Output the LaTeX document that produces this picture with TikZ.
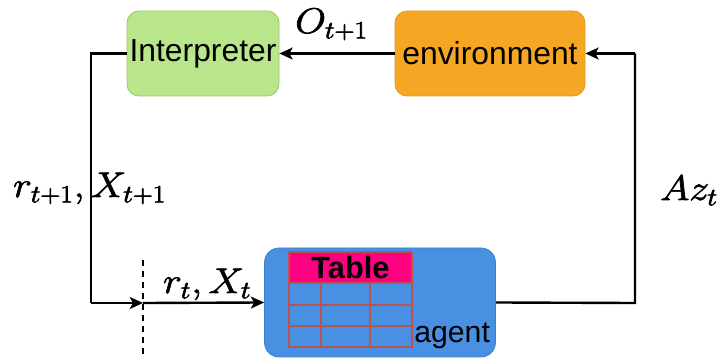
\documentclass[tikz,border=0pt]{standalone}
\usepackage[no-math]{fontspec}
\setmainfont{Liberation Sans}
\usetikzlibrary{arrows.meta}
\DeclareMathSizes{24.88}{24.88}{17.28}{12}
\newdimen\pxu \pxu=0.754pt
\newcommand{\mlab}[1]{\special{pdf:literal 2 Tr 0.45 w}\scalebox{1.2}[1.08]{$#1$}\special{pdf:literal 0 Tr}}
\definecolor{igreen}{HTML}{B9E68B}
\definecolor{igreenb}{HTML}{97C96A}
\definecolor{eorange}{HTML}{F5A623}
\definecolor{eorangeb}{HTML}{E09A1E}
\definecolor{ablue}{HTML}{4A90E2}
\definecolor{ablueb}{HTML}{3E7FCC}
\definecolor{tpink}{HTML}{FF0080}
\definecolor{tgrid}{HTML}{B85450}
\tikzset{
  box/.style={draw, line width=0.6pt, rounded corners=9pt, inner sep=0pt,
    font=\fontsize{24}{29}\selectfont},
  conn/.style={line width=1.8pt, -{Stealth[length=10pt,width=9pt,inset=2.5pt]}},
  plain/.style={line width=1.8pt},
  mlabel/.style={inner sep=0pt, font=\fontsize{24.88}{30}\selectfont},
  grid/.style={draw=tgrid, line width=1.1pt},
}
\begin{document}
\begin{tikzpicture}[x=\pxu,y=-\pxu]
\useasboundingbox (0,0) rectangle (717,358);
% boxes
\node[box, fill=igreen, draw=igreenb, minimum width=152*\pxu, minimum height=85*\pxu] (interp) at (203,53.5) {Interpreter};
\node[box, fill=eorange, draw=eorangeb, minimum width=190*\pxu, minimum height=85*\pxu] (env) at (490,53.5) {environment};
\node[box, fill=ablue, draw=ablueb, rounded corners=11pt, minimum width=231*\pxu, minimum height=109*\pxu] (agent) at (380,302.5) {};
% table
\node[fill=tpink, draw=tgrid, line width=1.1pt, inner sep=0pt, minimum width=123*\pxu, minimum height=31*\pxu,
  font=\fontsize{23.2}{28}\selectfont\bfseries] (table) at (350.5,267.5) {Table};
\draw[grid] (289,283) rectangle (412,347);
\draw[grid] (289,305) -- (412,305) (289,326) -- (412,326);
\draw[grid] (321,283) -- (321,347) (370,283) -- (370,347);
\node[inner sep=0pt, anchor=base west, font=\fontsize{22.8}{27}\selectfont] (agtext) at (414,343) {agent};
% connectors
\coordinate (lt) at (91,53.5);
\coordinate (lb) at (91,303);
\coordinate (cut) at (143,303);
\coordinate (rb) at (635,303);
\coordinate (rt) at (635,53.5);
\draw[conn] (env.west) -- (interp.east);
\draw[plain] (interp.west) -- (lt) -- (lb);
\draw[conn] (lb) -- (cut);
\draw[conn] (cut) -- (agent.west);
\draw[plain] (agent.east) -- (rb) -- (rt);
\draw[conn] (rt) -- (env.east);
\coordinate (d1) at (143,260);
\coordinate (d2) at (143,355);
\draw[line width=1.2pt, dash pattern=on 4.5pt off 3.8pt] (d1) -- (d2);
% labels
\node[mlabel, anchor=base west] (lo) at (295,33) {\mlab{O_{t+1}}};
\node[mlabel, anchor=base west] (lr) at (13,197) {\mlab{r_{t+1}, X_{t+1}}};
\node[mlabel, anchor=base west] (lrt) at (163,293) {\mlab{r_t, X_t}};
\node[mlabel, anchor=base west] (laz) at (660,200) {\mlab{Az_t}};
\end{tikzpicture}
\end{document}
